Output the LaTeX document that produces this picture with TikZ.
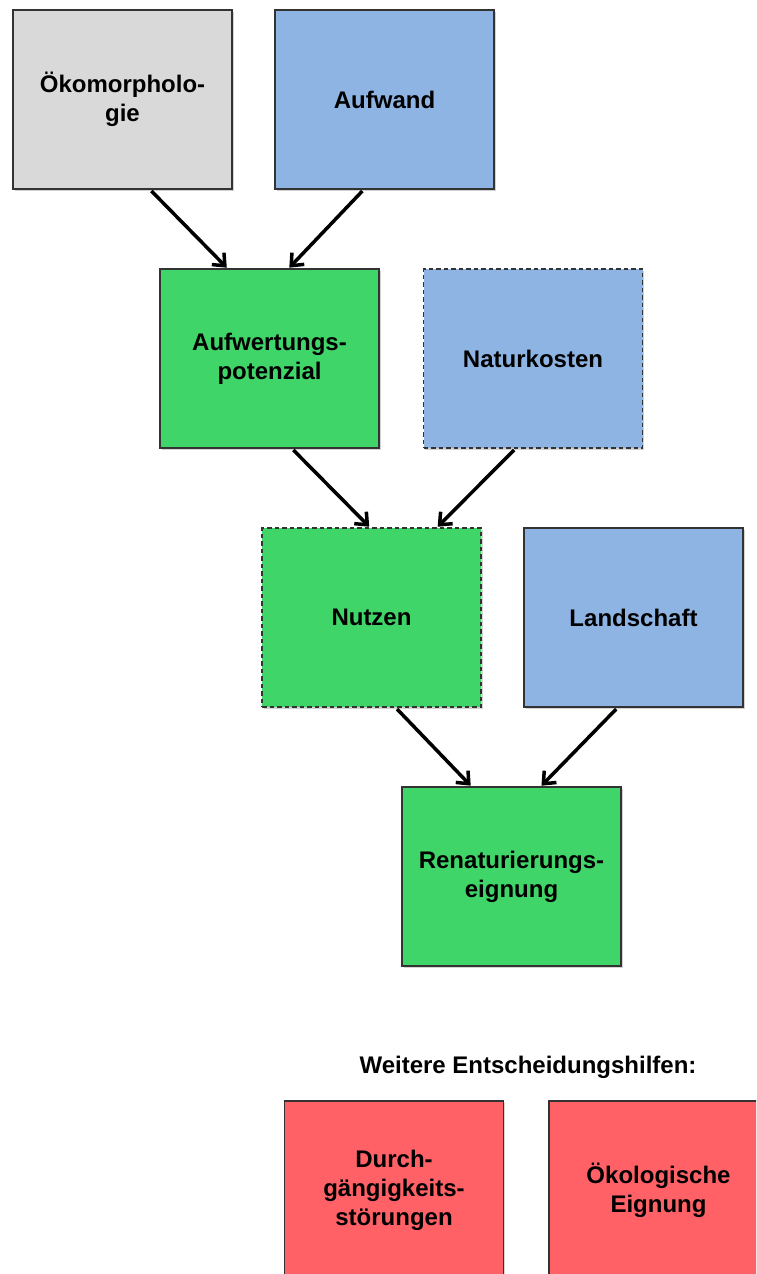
\documentclass[tikz,border=0pt]{standalone}
\usepackage{fontspec}
\setmainfont{Liberation Sans}
\usetikzlibrary{arrows.meta,shadows}
\definecolor{boxgray}{HTML}{D9D9D9}
\definecolor{boxblue}{HTML}{8EB4E3}
\definecolor{boxgreen}{HTML}{40D568}
\definecolor{boxred}{HTML}{FF6166}

\begin{document}
\begin{tikzpicture}[
    x=1pt, y=-1pt,
    font=\fontsize{24}{29}\selectfont\bfseries,
    box/.style={draw=black!80, line width=1.2pt, align=center, minimum width=219pt, minimum height=179pt,
      inner sep=0pt, drop shadow={shadow xshift=1.5pt, shadow yshift=-2pt, opacity=0.35}},
    open/.style={dash pattern=on 4.5pt off 3pt},
    arrow/.style={-{Straight Barb[length=10pt,width=17pt]}, line width=3.5pt, shorten <=2pt, shorten >=1pt}
  ]
    \useasboundingbox (0,0) rectangle (756,1274);
    \clip (0,0) rectangle (756,1274);
    \node[box, fill=boxgray] (oeko) at (122.5,99.5) {Ökomorpholo-\\gie};
    \node[box, fill=boxblue] (aufw) at (384.5,99.5) {Aufwand};
    \node[box, fill=boxgreen] (pot) at (269.5,358.5) {Aufwertungs-\\potenzial};
    \node[box, open, fill=boxblue] (natur) at (533,358.5) {Naturkosten};
    \node[box, open, fill=boxgreen] (nutz) at (371.5,617.5) {Nutzen};
    \node[box, fill=boxblue] (land) at (633.5,617.5) {Landschaft};
    \node[box, fill=boxgreen] (renat) at (511.5,876.5) {Renaturierungs-\\eignung};
    \node (hilfe) at (528,1067) {Weitere Entscheidungshilfen:};
    \node[box, fill=boxred] (durch) at (394,1190.5) {Durch-\\gängigkeits-\\störungen};
    \node[box, fill=boxred] (oekol) at (658.5,1190.5) {Ökologische\\Eignung};
    \draw[arrow] (oeko.-73) -- (pot.115);
    \draw[arrow] (aufw.-103) -- (pot.78);
    \draw[arrow] (pot.-76) -- (nutz.91);
    \draw[arrow] (natur.-101) -- (nutz.54);
    \draw[arrow] (nutz.-75) -- (renat.114);
    \draw[arrow] (land.-100) -- (renat.72);
\end{tikzpicture}
\end{document}
